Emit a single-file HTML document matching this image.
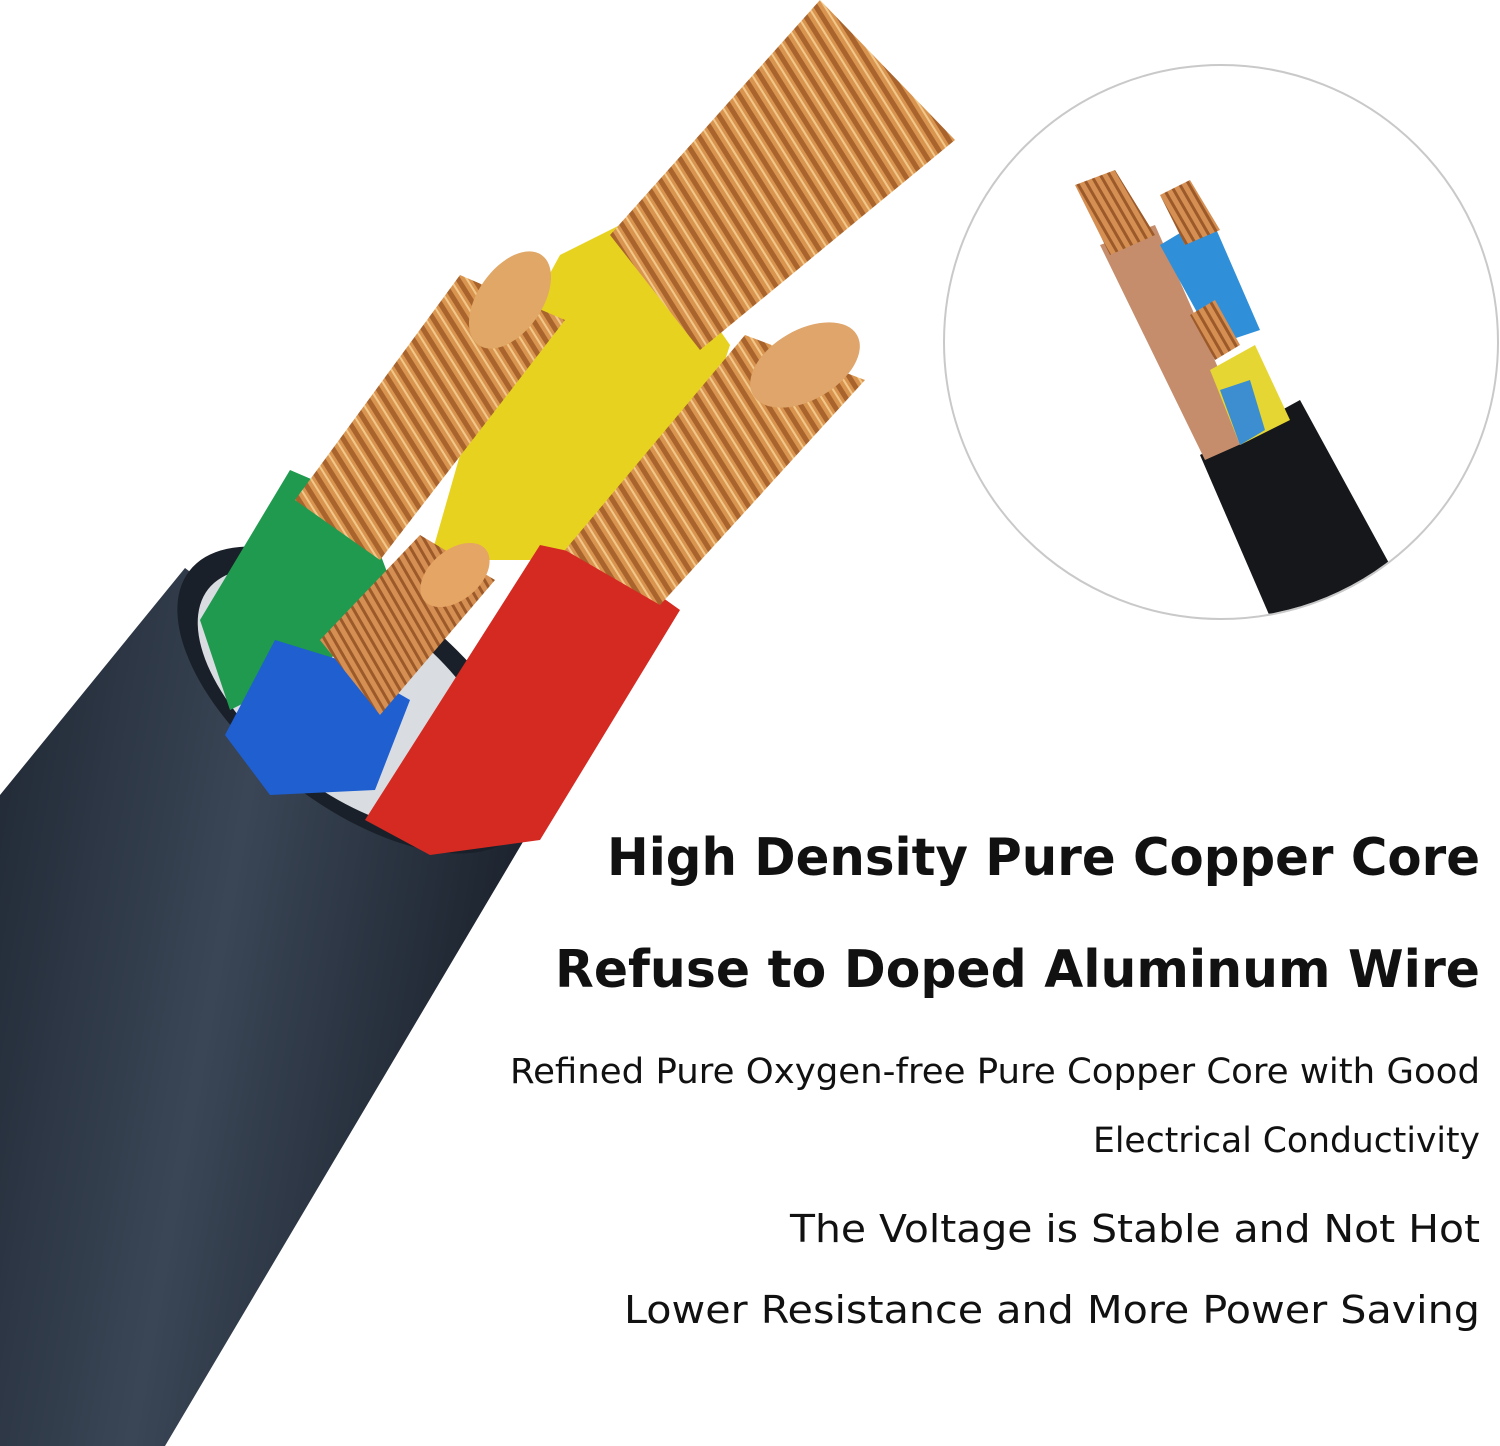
<!DOCTYPE html>
<html><head><meta charset="utf-8"><style>
html,body{margin:0;padding:0;background:#fff;}
svg{display:block}
</style></head><body>
<svg width="1500" height="1446" viewBox="0 0 1500 1446" xmlns="http://www.w3.org/2000/svg">
<defs>
<linearGradient id="jk" x1="0" y1="0" x2="1" y2="0.3">
<stop offset="0" stop-color="#1f2733"/><stop offset="0.5" stop-color="#3a4656"/><stop offset="1" stop-color="#1c232e"/></linearGradient>
<pattern id="cu" width="14" height="14" patternUnits="userSpaceOnUse" patternTransform="rotate(-32)">
<rect width="14" height="14" fill="#d9954f"/><rect width="5" height="14" fill="#a8642c"/><rect x="9" width="2" height="14" fill="#f2c88a"/></pattern>
<pattern id="cu2" width="8" height="8" patternUnits="userSpaceOnUse" patternTransform="rotate(-30)">
<rect width="8" height="8" fill="#d58f52"/><rect width="3" height="8" fill="#9c5a2a"/></pattern>
<clipPath id="circ"><circle cx="1221" cy="342" r="276"/></clipPath>
</defs>

<!-- jacket -->
<polygon points="0,795 185,568 530,830 165,1446 0,1446" fill="url(#jk)"/>
<ellipse cx="355" cy="700" rx="210" ry="105" transform="rotate(38 355 700)" fill="#1a2029"/>
<ellipse cx="350" cy="700" rx="180" ry="90" transform="rotate(38 350 700)" fill="#d9dde2"/>

<!-- top wire (yellow) + copper -->
<polygon points="560,255 640,215 730,345 660,560 430,560 470,420" fill="#e8d220"/>
<polygon points="610,235 820,0 955,140 700,350" fill="url(#cu)"/>
<!-- green wire -->
<polygon points="200,620 290,470 360,500 390,580 330,660 230,710" fill="#1f9a4f"/>
<polygon points="295,500 460,275 565,320 380,560" fill="url(#cu)"/>
<ellipse cx="510" cy="300" rx="55" ry="32" transform="rotate(-55 510 300)" fill="#e0a766"/>
<!-- red wire -->
<polygon points="365,820 540,545 610,560 680,610 540,840 430,855" fill="#d42a22"/>
<polygon points="565,550 745,335 865,380 660,605" fill="url(#cu)"/>
<ellipse cx="805" cy="365" rx="60" ry="35" transform="rotate(-30 805 365)" fill="#dfa56a"/>
<!-- blue wire -->
<polygon points="225,735 275,640 340,660 410,700 375,790 270,795" fill="#1f5fd0"/>
<polygon points="320,640 420,535 495,580 380,715" fill="url(#cu2)"/>
<ellipse cx="455" cy="575" rx="40" ry="25" transform="rotate(-40 455 575)" fill="#e5a564"/>

<!-- inset circle -->
<circle cx="1221" cy="342" r="277" fill="#fff" stroke="#c9c9c9" stroke-width="2"/>
<g clip-path="url(#circ)">
<polygon points="1200,455 1300,400 1420,620 1280,640" fill="#15171a"/>
<polygon points="1100,245 1155,225 1250,440 1205,460" fill="#c58d6c"/>
<polygon points="1160,245 1210,215 1260,330 1215,345" fill="#2f8fd8"/>
<polygon points="1210,370 1255,345 1290,420 1240,445" fill="#e6d634"/>
<polygon points="1220,390 1250,380 1265,430 1240,445" fill="#3c8ed0"/>
<polygon points="1075,185 1115,170 1155,235 1110,255" fill="url(#cu2)"/>
<polygon points="1160,195 1190,180 1220,230 1185,245" fill="url(#cu2)"/>
<polygon points="1190,315 1215,300 1240,345 1215,360" fill="url(#cu2)"/>
</g>

<g font-family="'DejaVu Sans','Liberation Sans',sans-serif" text-anchor="end" fill="#111">
<text x="1480" y="875" font-size="52" font-weight="bold" textLength="873" lengthAdjust="spacingAndGlyphs">High Density Pure Copper Core</text>
<text x="1480" y="987" font-size="52" font-weight="bold" textLength="925" lengthAdjust="spacingAndGlyphs">Refuse to Doped Aluminum Wire</text>
<text x="1480" y="1083" font-size="35" textLength="970" lengthAdjust="spacingAndGlyphs">Refined Pure Oxygen-free Pure Copper Core with Good</text>
<text x="1480" y="1152" font-size="35" textLength="387" lengthAdjust="spacingAndGlyphs">Electrical Conductivity</text>
<text x="1480" y="1242" font-size="38" textLength="690" lengthAdjust="spacingAndGlyphs">The Voltage is Stable and Not Hot</text>
<text x="1480" y="1323" font-size="38" textLength="856" lengthAdjust="spacingAndGlyphs">Lower Resistance and More Power Saving</text>
</g>
</svg>
</body></html>
